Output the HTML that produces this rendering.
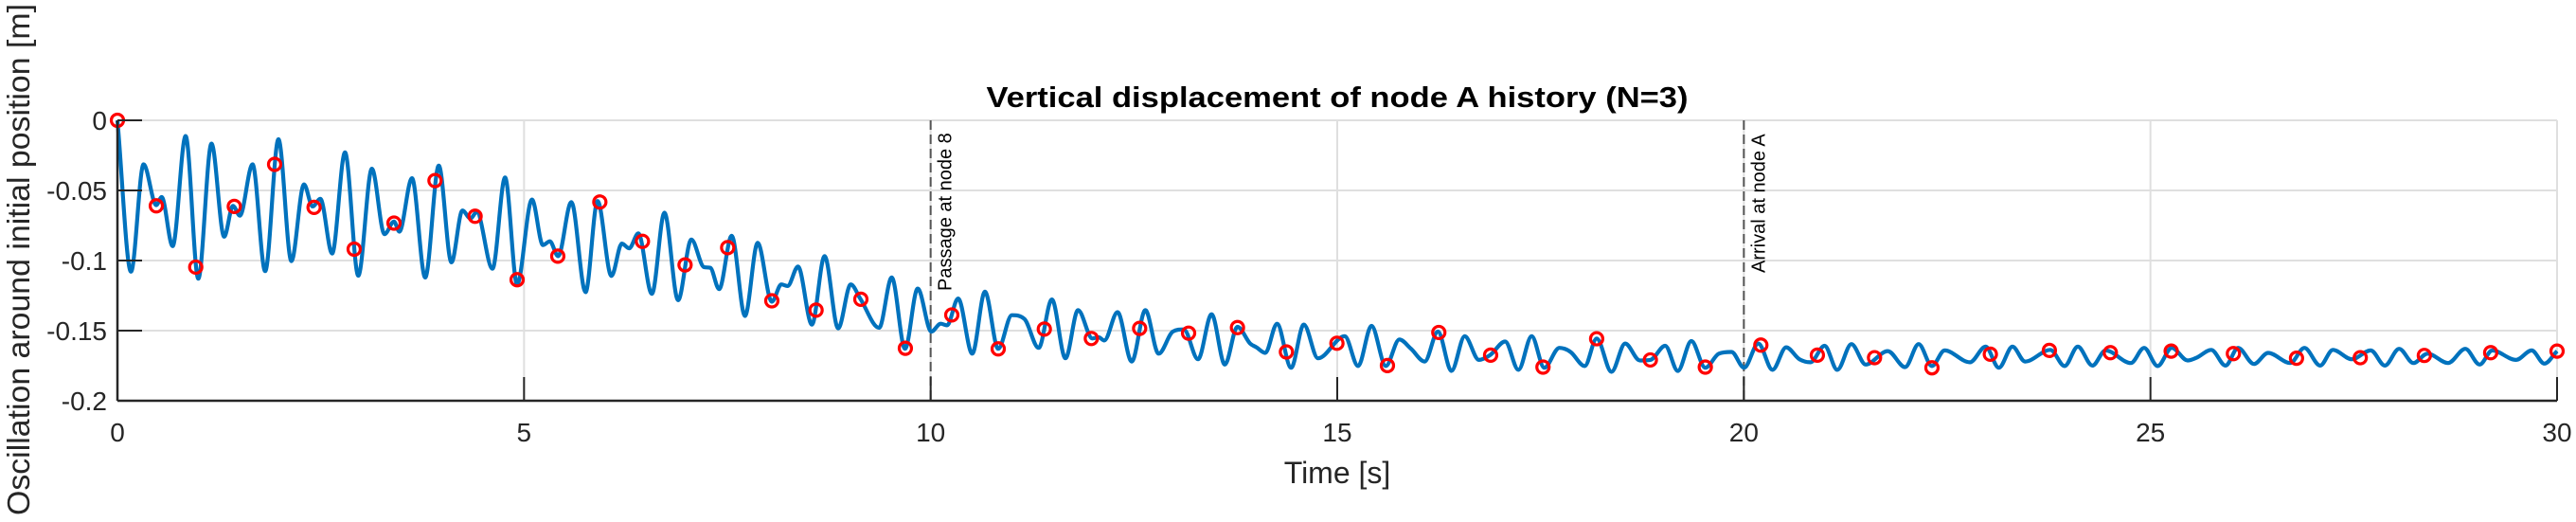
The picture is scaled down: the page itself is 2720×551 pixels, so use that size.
<!DOCTYPE html>
<html><head><meta charset="utf-8"><style>
html,body{margin:0;padding:0;background:#fff;}
svg{display:block;font-family:"Liberation Sans",Arial,sans-serif;}
</style></head><body>
<svg id="chart" width="2720" height="551" viewBox="0 0 2720 551" xmlns="http://www.w3.org/2000/svg">
<rect x="124" y="127" width="2576" height="296" fill="#fff"/>
<g id="grid"></g>
<g id="events"></g>
<g id="series"></g>
<g id="axes"></g>
<text x="1412" y="113" text-anchor="middle" font-weight="bold" font-size="31" textLength="741" lengthAdjust="spacingAndGlyphs" fill="#000">Vertical displacement of node A history (N=3)</text>
<text x="1412" y="510" text-anchor="middle" font-size="32" fill="#262626">Time [s]</text>
<text transform="translate(31,274) rotate(-90)" text-anchor="middle" font-size="33" textLength="540" lengthAdjust="spacingAndGlyphs" fill="#262626">Oscillation around initial position [m]</text>
</svg>
<script>
const xTicks = [0, 5, 10, 15, 20, 25, 30];
const xTickLabels = ["0", "5", "10", "15", "20", "25", "30"];
const yTicks = [0, -0.05, -0.1, -0.15, -0.2];
const yTickLabels = ["0", "-0.05", "-0.1", "-0.15", "-0.2"];
const eventTimes = [10, 20];
const eventLabels = ["Passage at node 8", "Arrival at node A"];
const curveT = [0,0.167,0.322,0.478,0.544,0.679,0.839,0.994,1.157,1.312,1.421,1.506,1.662,1.817,1.980,2.139,2.294,2.399,2.496,2.640,2.799,2.962,3.129,3.284,3.401,3.467,3.622,3.785,3.952,4.107,4.243,4.340,4.418,4.612,4.767,4.915,
5.097,5.233,5.318,5.419,5.582,5.757,5.904,6.075,6.203,6.293,6.405,6.572,6.727,6.894,7.057,7.213,7.290,7.399,7.554,7.717,7.873,8.047,8.164,8.241,8.369,8.540,8.696,8.863,9.018,9.134,9.367,9.522,9.685,9.841,10.008,
10.124,10.202,10.338,10.512,10.668,10.831,10.998,11.153,11.328,11.491,11.658,11.813,11.988,12.065,12.135,12.298,12.473,12.640,12.803,12.978,13.113,13.288,13.455,13.618,13.773,13.929,14.006,14.115,14.259,14.433,14.589,14.763,
15.092,15.256,15.422,15.597,15.764,15.908,16.075,16.238,16.405,16.568,16.742,16.878,17.065,17.228,17.391,17.546,17.732,17.868,18.043,18.190,18.373,18.540,18.722,18.850,19.033,19.188,19.355,19.526,19.693,19.848,20.003,
20.178,20.353,20.520,20.683,20.819,20.993,21.149,21.323,21.498,21.770,21.983,22.150,22.313,22.468,22.779,22.973,23.136,23.303,23.458,23.769,23.944,24.107,24.286,24.448,24.759,24.922,
25.088,25.263,25.457,25.573,25.748,25.923,26.078,26.272,26.447,26.719,26.893,27.087,27.243,27.476,27.709,27.883,28.058,28.233,28.407,28.660,28.873,29.048,29.203,29.494,29.688,29.844,30.0];
const curveV = [0,-0.108,-0.0314,-0.0605,-0.0547,-0.0897,-0.0112,-0.113,-0.0166,-0.083,-0.061,-0.068,-0.0314,-0.1076,-0.0135,-0.1004,-0.0457,-0.0614,-0.056,-0.095,-0.0229,-0.1108,-0.0345,-0.0812,-0.0722,-0.0794,-0.0413,-0.1121,-0.0323,-0.1013,-0.0643,-0.07,-0.0655,-0.1058,-0.0408,-0.117,
-0.0565,-0.089,-0.0863,-0.0969,-0.0583,-0.1226,-0.0576,-0.111,-0.0879,-0.0913,-0.0807,-0.1238,-0.0659,-0.1283,-0.085,-0.1047,-0.1052,-0.1204,-0.0823,-0.1395,-0.0874,-0.1294,-0.117,-0.1182,-0.1043,-0.1457,-0.0969,-0.1484,-0.117,-0.1271,-0.148,-0.1121,-0.163,-0.12,-0.1507,
-0.1451,-0.1462,-0.1271,-0.1664,-0.1222,-0.163,-0.139,-0.1417,-0.1623,-0.1278,-0.1697,-0.1354,-0.1556,-0.1547,-0.157,-0.1368,-0.172,-0.1354,-0.1664,-0.1507,-0.1491,-0.1704,-0.1383,-0.1742,-0.1473,-0.1592,-0.1619,-0.1659,-0.1451,-0.1765,-0.1457,-0.1697,
-0.154,-0.1753,-0.1466,-0.1753,-0.1563,-0.163,-0.172,-0.1507,-0.1787,-0.154,-0.1709,-0.1675,-0.1578,-0.178,-0.154,-0.1765,-0.1623,-0.1652,-0.1753,-0.1556,-0.1794,-0.1592,-0.1713,-0.1709,-0.1608,-0.1787,-0.1574,-0.1765,-0.1664,-0.1652,-0.1765,
-0.1592,-0.178,-0.1619,-0.1704,-0.1726,-0.1608,-0.178,-0.1596,-0.1742,-0.1646,-0.176,-0.1596,-0.1753,-0.1641,-0.1726,-0.1614,-0.1765,-0.1614,-0.172,-0.1637,-0.1753,-0.1614,-0.1749,-0.1641,-0.1731,-0.1623,
-0.1753,-0.1623,-0.1713,-0.1691,-0.1637,-0.1749,-0.1623,-0.1738,-0.1659,-0.1731,-0.1623,-0.1749,-0.1637,-0.1704,-0.1641,-0.1749,-0.163,-0.1731,-0.1664,-0.1731,-0.163,-0.1742,-0.1641,-0.1709,-0.1641,-0.1735,-0.1646];
const sampleT = [0,0.478,0.963,1.437,1.933,2.418,2.911,3.401,3.905,4.398,4.915,5.415,5.932,6.456,6.980,7.504,8.047,8.591,9.142,9.689,10.260,10.831,11.398,11.976,12.570,13.172,13.773,14.375,14.996,15.617,16.249,16.886,17.530,18.190,18.850,19.526,20.209,20.904,21.607,22.313,23.031,23.757,24.507,25.255,26.020,26.796,27.580,28.368,29.184,30.0];
const sampleV = [0,-0.061,-0.1047,-0.0614,-0.0314,-0.0621,-0.0919,-0.0733,-0.043,-0.0684,-0.1137,-0.0969,-0.0583,-0.0863,-0.1031,-0.0908,-0.1287,-0.1354,-0.1276,-0.1626,-0.1388,-0.163,-0.1489,-0.1556,-0.1484,-0.1518,-0.1478,-0.1652,-0.159,-0.1749,-0.1513,-0.1675,-0.176,-0.1558,-0.1709,-0.176,-0.1603,-0.1675,-0.1693,-0.1765,-0.1668,-0.1641,-0.1657,-0.1646,-0.1664,-0.1697,-0.1693,-0.1677,-0.1657,-0.1646];

const NS = "http://www.w3.org/2000/svg";
const L = 124, R = 2700, T = 127, B = 423;
const xMin = 0, xMax = 30, yMin = -0.2, yMax = 0;
function X(t){ return L + (t - xMin) / (xMax - xMin) * (R - L); }
function Y(v){ return B - (v - yMin) / (yMax - yMin) * (B - T); }
function mk(tag, attrs, parent){ const e = document.createElementNS(NS, tag); for (const k in attrs) e.setAttribute(k, attrs[k]); parent.appendChild(e); return e; }

const grid = document.getElementById('grid');
const axes = document.getElementById('axes');
const events = document.getElementById('events');
const series = document.getElementById('series');

xTicks.forEach((t, i) => {
  const g = mk('line', {x1: X(t), x2: X(t), y1: T, y2: B, stroke: '#dfdfdf', 'stroke-width': 2}, grid);
  
  
  const tk = mk('line', {x1: X(t), x2: X(t), y1: B, y2: B - 25, stroke: '#262626', 'stroke-width': 2}, axes);
  
  
  const lb = mk('text', {x: X(t), y: 466, 'text-anchor': 'middle', 'font-size': 28, fill: '#262626'}, axes);
  lb.textContent = xTickLabels[i];
  
  
});
yTicks.forEach((v, i) => {
  const g = mk('line', {x1: L, x2: R, y1: Y(v), y2: Y(v), stroke: '#dfdfdf', 'stroke-width': 2}, grid);
  
  
  const tk = mk('line', {x1: L, x2: L + 26, y1: Y(v), y2: Y(v), stroke: '#262626', 'stroke-width': 2}, axes);
  
  
  const lb = mk('text', {x: 113, y: Y(v) + 10, 'text-anchor': 'end', 'font-size': 28, fill: '#262626'}, axes);
  lb.textContent = yTickLabels[i];
  
  
});
const xAxis = mk('line', {x1: L, x2: R, y1: B, y2: B, stroke: '#262626', 'stroke-width': 2.5}, axes);


const yAxis = mk('line', {x1: L, x2: L, y1: T, y2: B, stroke: '#262626', 'stroke-width': 2.5}, axes);



eventTimes.forEach((t, i) => {
  const ln = mk('line', {x1: X(t), x2: X(t), y1: T, y2: B, stroke: '#555', 'stroke-width': 2, 'stroke-dasharray': '10,5'}, events);
  
  
  const tx = mk('text', {transform: 'translate(' + (X(t) + 22) + ',' + (i === 0 ? 307 : 288) + ') rotate(-90)', 'font-size': 20, fill: '#000'}, events);
  tx.textContent = eventLabels[i];
  
  
});

// monotone cubic through extrema
const px = curveT.map(X), py = curveV.map(Y);
const n = px.length, d = [], m = new Array(n).fill(0);
for (let i = 0; i < n - 1; i++) d.push((py[i+1] - py[i]) / (px[i+1] - px[i]));
m[0] = d[0]; m[n-1] = d[n-2];
for (let i = 1; i < n - 1; i++) m[i] = (d[i-1] * d[i] <= 0) ? 0 : (d[i-1] + d[i]) / 2;
for (let i = 0; i < n - 1; i++) {
  if (d[i] === 0) { m[i] = 0; m[i+1] = 0; continue; }
  const a = m[i] / d[i], b = m[i+1] / d[i], s = a*a + b*b;
  if (s > 9) { const tt = 3 / Math.sqrt(s); m[i] = tt*a*d[i]; m[i+1] = tt*b*d[i]; }
}
let dstr = 'M' + px[0].toFixed(1) + ',' + py[0].toFixed(1);
for (let i = 0; i < n - 1; i++) {
  const h = px[i+1] - px[i];
  dstr += ' C' + (px[i] + h/3).toFixed(1) + ',' + (py[i] + m[i]*h/3).toFixed(1) + ' ' + (px[i+1] - h/3).toFixed(1) + ',' + (py[i+1] - m[i+1]*h/3).toFixed(1) + ' ' + px[i+1].toFixed(1) + ',' + py[i+1].toFixed(1);
}
const path = mk('path', {d: dstr, fill: 'none', stroke: '#0072BD', 'stroke-width': 4.2, 'stroke-linejoin': 'round'}, series);



sampleT.forEach((t, i) => {
  const c = mk('circle', {cx: X(t), cy: Y(sampleV[i]), r: 6.5, fill: 'none', stroke: '#FF0000', 'stroke-width': 3.2}, series);
  
  
});
</script>
</body></html>
